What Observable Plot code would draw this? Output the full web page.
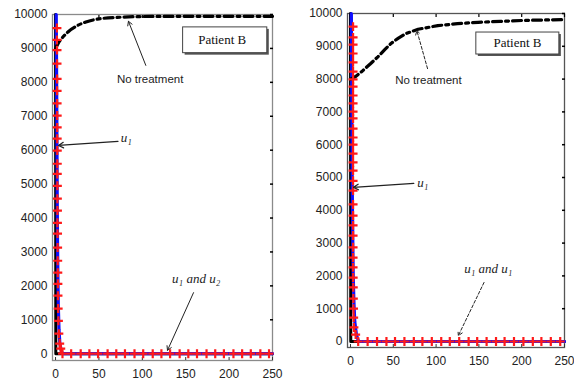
<!DOCTYPE html>
<html><head><meta charset="utf-8">
<script src="https://cdn.jsdelivr.net/npm/d3@7"></script>
<script src="https://cdn.jsdelivr.net/npm/@observablehq/plot@0.6"></script>
<style>
body{margin:0;background:#fff;}
#wrap{position:relative;width:574px;height:383px;overflow:hidden;background:#fff;}
.panel{position:absolute;top:0;}
</style></head>
<body><div id="wrap"><div id="pL" class="panel" style="left:0"></div><div id="pR" class="panel" style="left:290px"></div></div>
<script>
// ---------- data ----------
const xTicks = [0, 50, 100, 150, 200, 250];
const yTicks = [0, 1000, 2000, 3000, 4000, 5000, 6000, 7000, 8000, 9000, 10000];

// Left panel
const leftNoTreatT = [0, 3, 8, 15, 25, 35, 50, 75, 100, 150, 200, 250];
const leftNoTreatV = [9000, 9150, 9320, 9500, 9670, 9780, 9870, 9920, 9940, 9945, 9945, 9945];
const leftBlackT = [0, 0.3, 250];
const leftBlackV = [10000, 0, 0];
const leftBlueT = [0.8, 1.0, 1.2, 1.4, 1.6, 1.8, 2.0, 2.3, 2.7, 3.2, 4.0, 5.0, 6.5, 8, 250];
const leftBlueV = [10000, 9200, 8300, 7300, 6300, 5300, 4300, 3300, 2300, 1400, 700, 300, 100, 0, 0];
const leftStarT = [1.6, 1.6, 1.7, 1.7, 1.8, 1.8, 1.8, 1.9, 1.9, 1.9, 2.0, 2.0, 2.0, 2.1, 2.1, 2.2, 2.2, 2.3, 2.4, 2.5, 2.6, 2.7, 2.8, 3.0, 3.3, 3.8, 4.8, 6.0,
  8, 18, 29, 39, 49, 60, 70, 80, 91, 101, 112, 122, 132, 143, 153, 163, 174, 184, 194, 205, 215, 225, 236, 246];
const leftStarV = [9600, 9250, 8950, 8550, 8100, 7750, 7380, 7020, 6670, 6340, 5990, 5600, 5300, 4950, 4570, 4220, 3860, 3540, 3130, 2740, 2390, 2060, 1710, 1330, 970, 590, 300, 150,
  0, 0, 0, 0, 0, 0, 0, 0, 0, 0, 0, 0, 0, 0, 0, 0, 0, 0, 0, 0, 0, 0, 0, 0];

// Right panel
const rightNoTreatT = [0, 6, 14, 23, 32, 40, 47, 56, 65, 79, 102, 125, 149, 175, 203, 250];
const rightNoTreatV = [8000, 8080, 8250, 8460, 8680, 8900, 9080, 9250, 9390, 9520, 9630, 9690, 9730, 9760, 9790, 9815];
const rightBlackT = [0, 0.3, 250];
const rightBlackV = [10000, 0, 0];
const rightBlueT = [1.0, 1.2, 1.4, 1.6, 1.8, 2.0, 2.3, 2.7, 3.2, 4.0, 5.0, 7.0, 9.5, 250];
const rightBlueV = [10000, 9000, 8000, 7000, 6000, 5000, 4000, 3000, 2000, 1200, 600, 200, 0, 0];
const rightStarT = [3, 3, 3, 3, 3, 3, 3, 3, 3, 3, 3, 3, 3, 3, 3, 3, 3, 3, 3, 3, 3, 3, 3, 3, 3, 3, 3, 3.1, 3.2, 3.3, 3.5, 3.7, 4.0, 6.0,
  9, 20, 31, 42, 52, 63, 74, 84, 95, 106, 116, 127, 138, 148, 159, 170, 180, 191, 202, 213, 223, 234, 245];
const rightStarV = [9600, 9270, 9050, 8780, 8510, 8230, 7990, 7770, 7500, 7260, 7010, 6800, 6490, 6220, 6000, 5730, 5460, 5210, 4900, 4600, 4180, 3840, 3540, 3230, 2870, 2560, 2260, 1950, 1650, 1310, 1000, 730, 430, 210,
  0, 0, 0, 0, 0, 0, 0, 0, 0, 0, 0, 0, 0, 0, 0, 0, 0, 0, 0, 0, 0, 0, 0];

// Annotations (data coordinates)
const boxLabel = "Patient B";
const noTreatLabel = "No treatment";
const u1Label = "u\u2081";
const leftBothLabel = "u\u2081 and u\u2082";
const rightBothLabel = "u\u2081 and u\u2081";
const leftBox = {x1: 147, x2: 244, y1: 8860, y2: 9620, tx: 192, ty: 9240};
const rightBox = {x1: 147, x2: 244, y1: 8750, y2: 9420, tx: 195, ty: 9100};
const leftNoTreatText = {x: 109, y: 8090};
const leftNoTreatArrow = {x1: 104, y1: 8500, x2: 84, y2: 9800};
const leftU1Text = {x: 75, y: 6350};
const leftU1Arrow = {x1: 72, y1: 6260, x2: 3.5, y2: 6140};
const leftBothText = {x: 162, y: 2220};
const leftBothArrow = {x1: 159, y1: 1800, x2: 129, y2: 100};
const rightNoTreatText = {x: 91, y: 7960};
const rightNoTreatArrow = {x1: 90, y1: 8320, x2: 77.5, y2: 9480};
const rightU1Text = {x: 78, y: 4850};
const rightU1Arrow = {x1: 74, y1: 4820, x2: 3.5, y2: 4700};
const rightBothText = {x: 161, y: 2230};
const rightBothArrow = {x1: 156, y1: 1800, x2: 126, y2: 180};

const zip = (T, V) => T.map((t, i) => ({t, v: V[i]}));

function panel(o) {
  const noTreat = zip(o.ntT, o.ntV), black = zip(o.bkT, o.bkV), blue = zip(o.blT, o.blV), stars = zip(o.stT, o.stV);
  return Plot.plot({
    width: o.width, height: 383,
    marginLeft: o.ml, marginRight: o.mr, marginTop: o.mt, marginBottom: o.mb,
    x: {domain: [-3.5, 250], axis: null},
    y: {domain: o.ydom, axis: null},
    style: {fontFamily: "Liberation Sans, Arial, sans-serif", fontSize: "12px", color: "#222", background: "#fff", overflow: "visible"},
    marks: [
      Plot.frame({stroke: o.frameColor, strokeWidth: 1.3}),
      Plot.axisX(xTicks, {anchor: "bottom", tickSize: 0, tickPadding: 9, fontSize: 12}),
      Plot.axisY(yTicks, {anchor: "left", tickSize: 0, tickPadding: 5, tickFormat: d => String(d), fontSize: 12}),
      Plot.axisY(yTicks, {anchor: "right", tickSize: -3, tickFormat: () => "", stroke: "#000", strokeWidth: 1.5}),
      Plot.axisX(xTicks, {anchor: "top", tickSize: -3, tickFormat: () => "", stroke: "#000", strokeWidth: 1.2}),
      Plot.axisX(xTicks, {anchor: "bottom", tickSize: -3, tickFormat: () => "", stroke: "#333", strokeWidth: 1}),
      Plot.line(black, {x: "t", y: "v", stroke: "#000", strokeWidth: 3}),
      Plot.line(blue, {x: "t", y: "v", stroke: "#1010ff", strokeWidth: 3.2}),
      Plot.line(noTreat, {x: "t", y: "v", stroke: "#000", strokeWidth: 3.2, strokeDasharray: "9,4,3,4", curve: o.ntCurve}),
      Plot.dot(stars, {x: "t", y: "v", symbol: "plus", r: 3, stroke: "#ff1a1a", strokeWidth: 2.2}),
      // Patient box with shadow
      Plot.rect([o.box], {x1: "x1", x2: "x2", y1: "y1", y2: "y2", fill: "#555", dx: 2, dy: 2}),
      Plot.rect([o.box], {x1: "x1", x2: "x2", y1: "y1", y2: "y2", fill: "#fff", stroke: "#444", strokeWidth: 1}),
      Plot.text([boxLabel], {x: o.box.tx, y: o.box.ty, fontFamily: "Liberation Serif, serif", fontSize: 13, fill: "#111"}),
      Plot.text([noTreatLabel], {x: o.ntText.x, y: o.ntText.y, fontSize: 11.5, fill: "#222"}),
      Plot.arrow([o.ntArrow], {x1: "x1", y1: "y1", x2: "x2", y2: "y2", stroke: "#222", strokeWidth: 1, headLength: 7, strokeDasharray: o.dash}),
      Plot.text([u1Label], {x: o.u1Text.x, y: o.u1Text.y, textAnchor: "start", fontFamily: "Liberation Serif, serif", fontStyle: "italic", fontSize: 13, fill: "#222"}),
      Plot.arrow([o.u1Arrow], {x1: "x1", y1: "y1", x2: "x2", y2: "y2", stroke: "#222", strokeWidth: 1.2, headLength: 7}),
      Plot.text([o.bothLabel], {x: o.bothText.x, y: o.bothText.y, fontFamily: "Liberation Serif, serif", fontStyle: "italic", fontSize: 13, fill: "#222"}),
      Plot.arrow([o.bothArrow], {x1: "x1", y1: "y1", x2: "x2", y2: "y2", stroke: "#222", strokeWidth: 1, headLength: 7, strokeDasharray: o.dash})
    ]
  });
}

document.getElementById("pL").append(panel({
  width: 290, ml: 52, mr: 18, mt: 14, mb: 23, ydom: [-200, 10000], frameColor: "#8a8a8a", ntCurve: "monotone-x",
  ntT: leftNoTreatT, ntV: leftNoTreatV, bkT: leftBlackT, bkV: leftBlackV, blT: leftBlueT, blV: leftBlueV, stT: leftStarT, stV: leftStarV,
  box: leftBox, ntText: leftNoTreatText, ntArrow: leftNoTreatArrow, u1Text: leftU1Text, u1Arrow: leftU1Arrow,
  bothLabel: leftBothLabel, bothText: leftBothText, bothArrow: leftBothArrow, dash: null
}));
document.getElementById("pR").append(panel({
  width: 284, ml: 57, mr: 10, mt: 13, mb: 36, ydom: [-183, 10000], frameColor: "#555", ntCurve: "linear",
  ntT: rightNoTreatT, ntV: rightNoTreatV, bkT: rightBlackT, bkV: rightBlackV, blT: rightBlueT, blV: rightBlueV, stT: rightStarT, stV: rightStarV,
  box: rightBox, ntText: rightNoTreatText, ntArrow: rightNoTreatArrow, u1Text: rightU1Text, u1Arrow: rightU1Arrow,
  bothLabel: rightBothLabel, bothText: rightBothText, bothArrow: rightBothArrow, dash: "3,2"
}));
</script></body></html>
